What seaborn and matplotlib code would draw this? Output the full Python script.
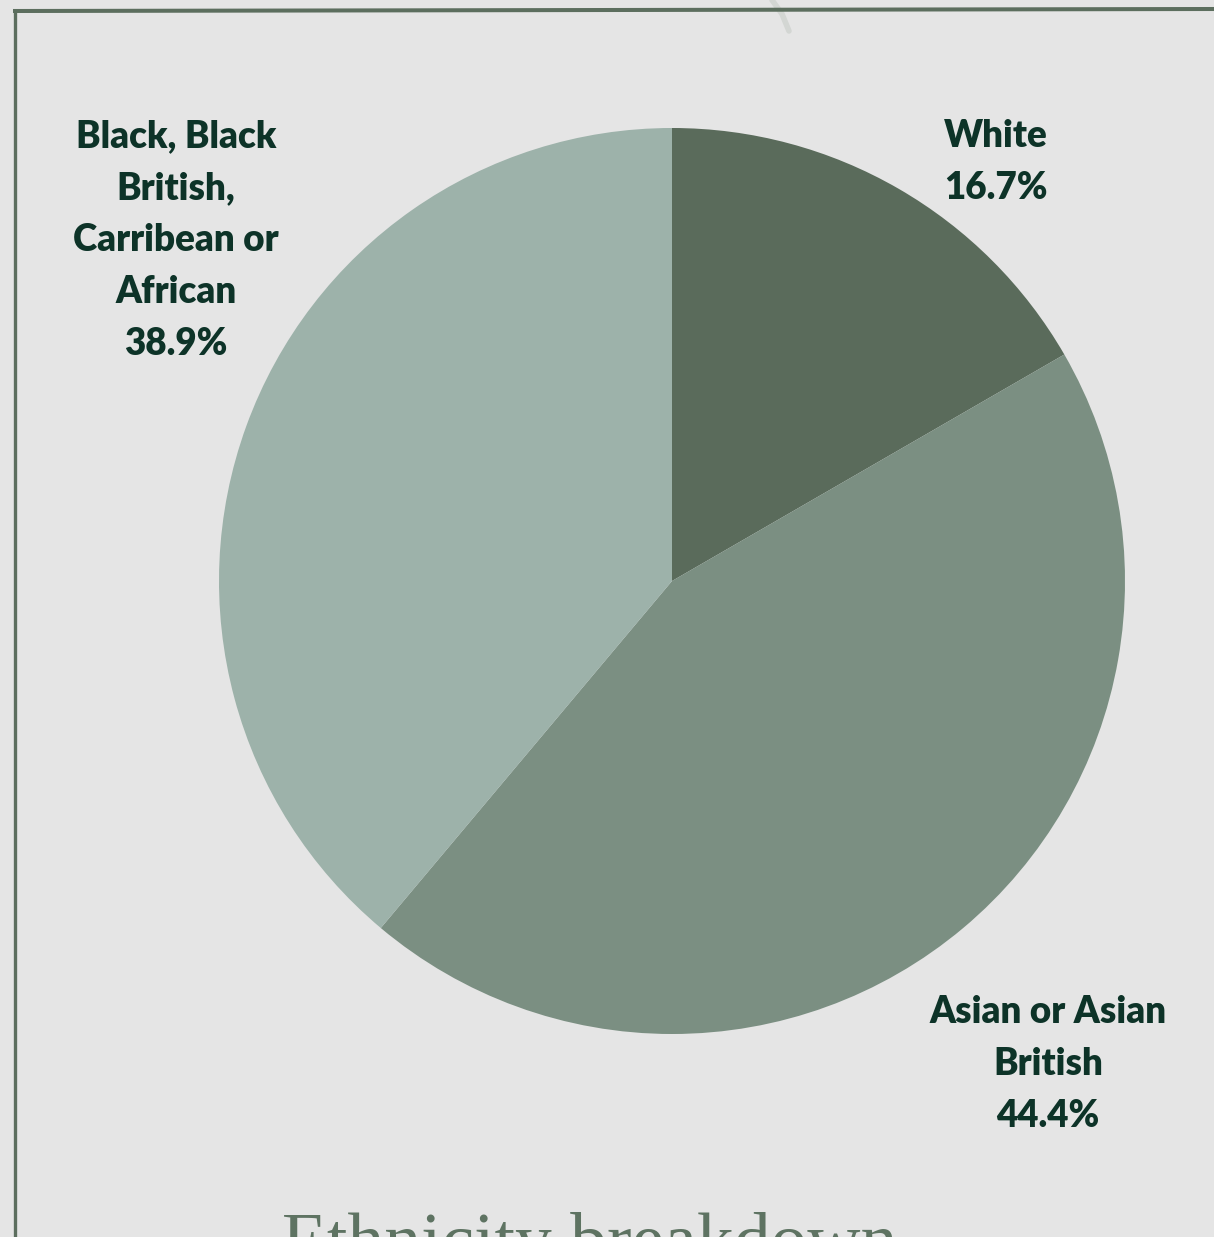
import matplotlib
matplotlib.use("Agg")
import matplotlib.pyplot as plt
import seaborn as sns
import numpy as np

# ---- data ----
categories = ["White", "Asian or Asian\nBritish", "Black, Black\nBritish,\nCarribean or\nAfrican"]
counts = [3, 8, 7]
slice_colors = ["#5a6b5b", "#7b8f82", "#9db2aa"]
title_text = "Ethnicity breakdown"

sns.set_theme(style="white")
plt.rcParams["font.family"] = ["Lato", "DejaVu Sans"]

W, H = 1214, 1237
fig = plt.figure(figsize=(W / 100, H / 100), dpi=100)
bg = "#e5e5e5"
fig.patch.set_facecolor(bg)
ax = fig.add_axes([0, 0, 1, 1])
ax.set_facecolor(bg)

palette = sns.color_palette(slice_colors)
cx, cy, r = 672, 581, 453
ax.pie(counts, colors=palette, startangle=-90, counterclock=True,
       center=(cx, cy), radius=r, wedgeprops=dict(linewidth=0))

ax.set_xlim(0, W)
ax.set_ylim(H, 0)
ax.set_aspect("auto")
ax.axis("off")

# labels
total = sum(counts)
label_pos = [(996, 133), (1048, 1009), (176, 133)]
txt_color = "#0d3328"
line_h = 52
for cat, c, (lx, ly) in zip(categories, counts, label_pos):
    lines = cat.split("\n") + [f"{c / total * 100:.1f}%"]
    for i, ln in enumerate(lines):
        ax.text(lx, ly + i * line_h, ln, ha="center", va="center_baseline",
                fontsize=26.5, fontweight="heavy", color=txt_color)

# frame lines
frame_c = "#5c6e5e"
ax.plot([13, W], [11, 9], color=frame_c, lw=2.9, solid_capstyle="butt")
ax.plot([14.5, 14.5], [10, H], color=frame_c, lw=2.4, solid_capstyle="butt")
# faint decorative stroke
ax.plot([772, 782, 789], [0, 14, 31], color="#d3d6d3", lw=4, solid_capstyle="round", zorder=0)

# title (cut off at bottom)
ax.text(590, 1264, title_text, ha="center", va="baseline",
        fontsize=53, color="#5e7362", family=["Liberation Serif", "DejaVu Serif"])

fig.savefig("out.png", dpi=100, facecolor=bg)
